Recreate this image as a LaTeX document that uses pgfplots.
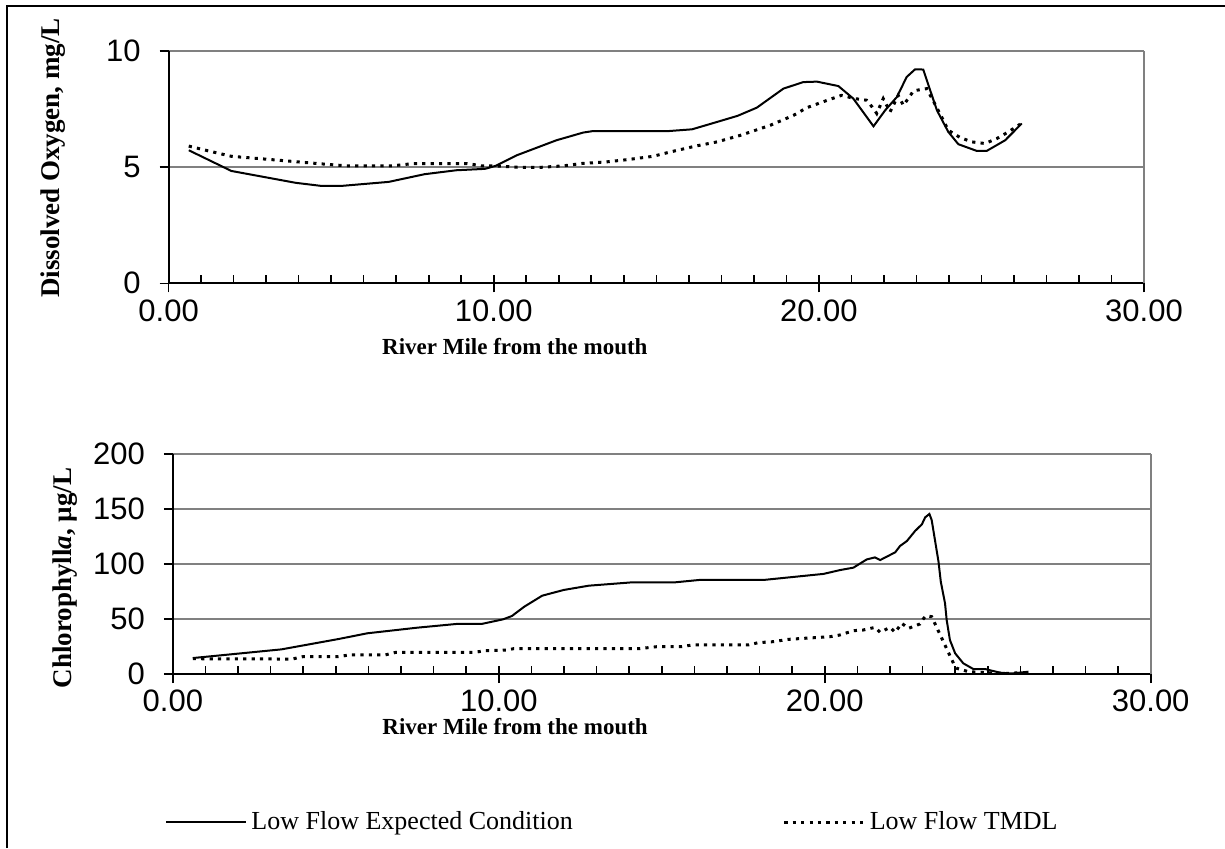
\documentclass[border=0pt]{standalone}
\usepackage{fontspec}
\setmainfont{Liberation Serif}
\newfontfamily\arial{Liberation Sans}
\usepackage{pgfplots}
\pgfplotsset{compat=1.18}

\tikzset{
  xlab/.style={font=\bfseries\fontsize{11.5}{13}\selectfont, anchor=center},
  ylab/.style={font=\bfseries\fontsize{13.5}{15}\selectfont, rotate=90, anchor=center},
  expected/.style={black, line width=1pt},
  tmdl/.style={black, line width=1.5pt, dash pattern=on 1.6pt off 2.6pt},
}
\pgfplotsset{
  river/.style={
    scale only axis, anchor=south west,
    xmin=0, xmax=30,
    xtick={0,10,20,30},
    xticklabels={0.00,10.00,20.00,30.00},
    minor xtick={0,1,...,30},
    axis x line*=bottom, axis y line*=left,
    axis line style={-, black, line width=1pt},
    tick align=outside,
    major tick length=4.5pt, minor tick length=4pt,
    tick style={black, line width=0.8pt},
    minor x tick style={yshift=4pt},
    ymajorgrids, grid style={gray, line width=0.9pt},
    tick label style={font=\arial\fontsize{15.5}{17}\selectfont},
    yticklabel style={xshift=-6pt},
    /pgf/number format/assume math mode=true,
    clip=false,
  },
}

\begin{document}
\begin{tikzpicture}
\path[use as bounding box] (0,0) rectangle (612.5pt,424pt);
\draw[line width=1pt] (3.5pt,0pt) -- (3.5pt,421pt) -- (612.5pt,421pt);

% Dissolved oxygen
\begin{axis}[river,
  at={(84.3pt,282.35pt)}, width=487.7pt, height=116.3pt,
  ymin=0, ymax=10, ytick={0,5,10},
  xlabel={River Mile from the mouth},
  ylabel={Dissolved Oxygen, mg/L},
  every axis x label/.style={at={(axis description cs:0.355,-0.274)}, xlab},
  every axis y label/.style={at={(axis description cs:-0.1185,0.539)}, ylab},
]
\draw[gray, line width=0.9pt] (rel axis cs:1,0) -- (rel axis cs:1,1);
\addplot[expected] coordinates {
(0.62,5.72) (1.93,4.83) (3.91,4.32) (4.68,4.19) (5.34,4.19) (6.77,4.36)
(7.87,4.69) (8.85,4.86) (9.73,4.92) (10.06,5.05) (10.72,5.51) (11.93,6.15)
(12.75,6.48) (13.03,6.54) (15.33,6.54) (16.10,6.62) (16.90,6.95) (17.50,7.20)
(18.09,7.55) (18.91,8.37) (19.52,8.65) (19.94,8.67) (20.60,8.48) (21.06,7.94)
(21.68,6.75) (22.04,7.44) (22.40,8.01) (22.70,8.87) (22.96,9.20) (23.21,9.19)
(23.63,7.44) (23.98,6.51) (24.29,5.98) (24.86,5.69) (25.16,5.69) (25.73,6.15)
(26.24,6.87)};
\addplot[tmdl] coordinates {
(0.62,5.90) (1.05,5.75) (1.93,5.46) (3.14,5.32) (4.57,5.15) (5.45,5.05)
(6.88,5.05) (7.54,5.15) (9.18,5.15) (9.62,5.05) (10.06,5.05) (10.83,4.98)
(11.38,4.98) (12.15,5.05) (12.70,5.15) (13.47,5.22) (14.13,5.32) (14.90,5.46)
(15.44,5.65) (16.21,5.90) (16.87,6.08) (17.58,6.36) (18.50,6.79) (19.22,7.22)
(19.63,7.55) (20.34,7.91) (20.70,8.08) (21.11,7.94) (21.47,7.87) (21.68,7.51)
(21.78,7.30) (21.98,7.94) (22.19,7.37) (22.44,8.08) (22.60,7.65) (22.91,8.27)
(23.01,8.30) (23.32,8.37) (23.78,7.14) (23.98,6.58) (24.34,6.27) (24.70,6.08)
(25.11,6.01) (25.47,6.22) (25.83,6.51) (26.19,6.84)};
\end{axis}

% Chlorophyll a
\begin{axis}[river,
  at={(86.45pt,87pt)}, width=488.9pt, height=110pt,
  ymin=0, ymax=200, ytick={0,50,100,150,200},
  xlabel={River Mile from the mouth},
  ylabel={Chlorophyll\textit{a}, µg/L},
  every axis x label/.style={at={(axis description cs:0.35,-0.241)}, xlab},
  every axis y label/.style={at={(axis description cs:-0.110,0.436)}, ylab},
  legend columns=2,
  legend style={at={(axis description cs:-0.008,-0.673)}, anchor=west,
    draw=none, fill=none, inner sep=0pt,
    font=\fontsize{13}{15}\selectfont,
    /tikz/every even column/.append style={column sep=103pt}},
  legend image code/.code={\draw[#1] (0pt,0pt) -- (40pt,0pt);},
]
\draw[gray, line width=0.9pt] (rel axis cs:1,0) -- (rel axis cs:1,1);
\addplot[expected] coordinates {
(0.61,14.5) (3.33,22.4) (5.08,31.8) (5.96,37.0) (7.49,42.1) (8.70,45.5)
(9.47,45.5) (10.13,49.7) (10.40,52.7) (10.78,61.2) (11.33,71.2) (11.99,76.4)
(12.76,80.3) (14.07,83.3) (15.39,83.3) (16.15,85.5) (18.12,85.5) (19.96,91.0)
(20.47,94.5) (20.88,96.7) (21.29,104.2) (21.54,106.0) (21.70,103.6) (22.16,110.6)
(22.31,116.4) (22.52,120.9) (22.77,130.0) (22.98,136.1) (23.08,142.4) (23.21,145.5)
(23.28,140.0) (23.49,102.0) (23.56,83.9) (23.69,64.2) (23.74,49.1) (23.84,30.9)
(24.00,18.8) (24.25,9.7) (24.56,4.5) (24.92,4.5) (25.38,1.2) (25.74,0.5)
(26.25,2.1)};
\addplot[tmdl] coordinates {
(0.61,13.9) (3.66,13.6) (3.99,15.8) (5.08,15.8) (5.41,17.3) (6.51,17.3)
(6.84,19.7) (9.25,19.7) (9.58,21.2) (10.23,21.8) (10.45,23.0) (14.29,23.0)
(14.84,24.8) (15.60,24.8) (15.93,26.4) (17.66,26.4) (17.96,28.5) (18.42,29.4)
(18.88,31.5) (19.34,32.4) (20.16,33.9) (20.47,35.5) (20.88,39.4) (21.18,40.0)
(21.54,42.4) (21.70,37.9) (22.00,42.4) (22.16,37.9) (22.36,46.1) (22.57,41.5)
(22.92,45.5) (23.01,49.7) (23.11,53.0) (23.28,52.1) (23.95,9.7) (24.05,5.2)
(24.41,2.1) (24.97,1.2) (25.58,0.5) (26.00,1.2)};
\legend{Low Flow Expected Condition, Low Flow TMDL}
\end{axis}
\end{tikzpicture}
\end{document}
